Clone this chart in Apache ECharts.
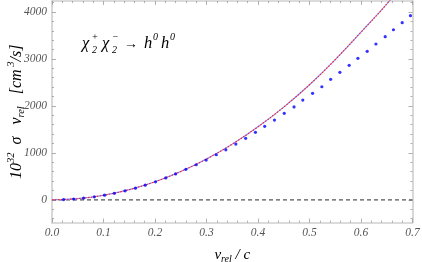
<!DOCTYPE html>
<html><head><meta charset="utf-8">
<script src="https://cdn.jsdelivr.net/npm/echarts@6/dist/echarts.min.js"></script>
<style>html,body{margin:0;padding:0;background:#fff}#c{width:422px;height:262px}</style>
</head><body><div id="c"></div>
<script>
// Data
var curveV   = [0, 0.05, 0.10, 0.15, 0.20, 0.25, 0.30, 0.35, 0.40, 0.45, 0.50, 0.55, 0.60, 0.65, 0.70];
var curveVal = [0, 24, 96, 216, 384, 601, 868, 1185, 1555, 1975, 2450, 2985, 3570, 4170, 4850];

var dotV   = [0.0226,0.042,0.0614,0.0822,0.102,0.121,0.142,0.162,0.181,0.201,0.221,0.240,0.260,0.280,0.2994,0.319,0.3375,0.357,0.376,0.395,0.413,0.432,0.451,0.470,0.487,0.506,0.524,0.541,0.559,0.577,0.594,0.612,0.629,0.647,0.663,0.680,0.696];
var dotVal = [5,17,36,62,98,138,190,248,311,383,466,550,648,746,846,959,1065,1187,1308,1436,1564,1698,1841,1978,2124,2267,2408,2565,2715,2864,3013,3162,3318,3474,3622,3772,3921];

var zeroV = [0, 0.7];
var zeroVal = [0, 0];

var xMajor = [0, 0.1, 0.2, 0.3, 0.4, 0.5, 0.6, 0.7];
var xMinor = [0.02,0.04,0.06,0.08,0.12,0.14,0.16,0.18,0.22,0.24,0.26,0.28,0.32,0.34,0.36,0.38,0.42,0.44,0.46,0.48,0.52,0.54,0.56,0.58,0.62,0.64,0.66,0.68];
var yMajor = [0, 1000, 2000, 3000, 4000];
var yMinor = [-400,-200,200,400,600,800,1200,1400,1600,1800,2200,2400,2600,2800,3200,3400,3600,3800,4200];

var X_MIN = 0, X_MAX = 0.7, Y_MIN = -486, Y_MAX = 4234;

function zip(a, b) { return a.map(function (v, i) { return [v, b[i]]; }); }

var SERIF = 'Liberation Serif';
var frameColor = '#cfcfcf';
var tickColor = '#9a9a9a';

function xAx(pos, major, showLine, showLabel) {
  return {
    type: 'value', position: pos, min: X_MIN, max: X_MAX,
    axisLine: { show: showLine, onZero: false, lineStyle: { color: frameColor, width: 1.6 } },
    axisTick: { show: true, inside: true, length: major ? 4 : 2, customValues: major ? xMajor : xMinor, lineStyle: { color: tickColor, width: 0.8 } },
    axisLabel: showLabel ? { show: true, customValues: xMajor, formatter: function (v) { return v.toFixed(1); }, color: '#555', fontFamily: SERIF, fontStyle: 'italic', fontSize: 11.5, margin: 4 } : { show: false },
    splitLine: { show: false }
  };
}
function yAx(pos, major, showLine, showLabel) {
  return {
    type: 'value', position: pos, min: Y_MIN, max: Y_MAX,
    axisLine: { show: showLine, onZero: false, lineStyle: { color: frameColor, width: 1.6 } },
    axisTick: { show: true, inside: true, length: major ? 4 : 2, customValues: major ? yMajor : yMinor, lineStyle: { color: tickColor, width: 0.8 } },
    axisLabel: showLabel ? { show: true, customValues: yMajor, formatter: function (v) { return String(v); }, color: '#555', fontFamily: SERIF, fontStyle: 'italic', fontSize: 11.5, margin: 5 } : { show: false },
    splitLine: { show: false }
  };
}

var xa0 = xAx('bottom', true, true, true);
xa0.name = '{v|v}{s|rel}{v| / c}';
xa0.nameLocation = 'middle';
xa0.nameGap = 22;
xa0.nameMoveOverlap = false;
xa0.nameTextStyle = { rich: {
  v: { fontFamily: SERIF, fontStyle: 'italic', fontSize: 15, color: '#000', lineHeight: 20, verticalAlign: 'middle' },
  s: { fontFamily: SERIF, fontStyle: 'italic', fontSize: 10, color: '#000', lineHeight: 10, verticalAlign: 'bottom' }
} };

var ya0 = yAx('left', true, true, true);
ya0.name = '{v|10}{p|32}{v|  σ   v}{s|rel}{v|   [cm}{p| 3}{v|/s]}';
ya0.nameLocation = 'middle';
ya0.nameGap = 25;
ya0.nameMoveOverlap = false;
ya0.nameTextStyle = { rich: {
  v: { fontFamily: SERIF, fontStyle: 'italic', fontSize: 16, color: '#000', lineHeight: 21, verticalAlign: 'middle' },
  s: { fontFamily: SERIF, fontStyle: 'italic', fontSize: 10.5, color: '#000', lineHeight: 10, verticalAlign: 'bottom' },
  p: { fontFamily: SERIF, fontStyle: 'italic', fontSize: 10.5, color: '#000', lineHeight: 10, verticalAlign: 'top' }
} };

function gt(x, y, t, size) {
  return { type: 'text', x: x, y: y, z: 100, style: { text: t, fontFamily: SERIF, fontStyle: 'italic', fontSize: size, fill: '#000', verticalAlign: 'middle', align: 'left' } };
}

var chart = echarts.init(document.getElementById('c'), null, { renderer: 'canvas' });
chart.setOption({
  animation: false,
  grid: { left: 52, right: 9.5, top: 1, bottom: 39.4, containLabel: false, outerBoundsMode: 'none' },
  xAxis: [xa0, xAx('bottom', false, false, false), xAx('top', true, true, false), xAx('top', false, false, false)],
  yAxis: [ya0, yAx('left', false, false, false), yAx('right', true, true, false), yAx('right', false, false, false)],
  graphic: [
    gt(82, 44, 'χ', 16.5), gt(92, 50, '2', 10), gt(91.5, 37, '+', 10),
    gt(102, 44, 'χ', 16.5), gt(112, 50, '2', 10), gt(112, 37, '−', 10),
    gt(124, 44, '→', 14),
    gt(144, 44, 'h', 16.5), gt(153, 37.5, '0', 10),
    gt(161, 44, 'h', 16.5), gt(170, 37.5, '0', 10)
  ],
  series: [
    { type: 'line', data: zip(zeroV, zeroVal), symbol: 'none', lineStyle: { color: '#555', width: 1.2, type: [4, 3] }, z: 2 },
    { type: 'line', data: zip(curveV, curveVal), smooth: 0.35, symbol: 'none', lineStyle: { color: '#8c8cff', width: 1.1 }, clip: true, z: 3 },
    { type: 'line', data: zip(curveV, curveVal), smooth: 0.35, symbol: 'none', lineStyle: { color: '#ff2020', width: 1.1, type: [1.5, 1.5] }, clip: true, z: 4 },
    { type: 'scatter', data: zip(dotV, dotVal), symbol: 'circle', symbolSize: 3.2, itemStyle: { color: '#0000ff' }, z: 5 }
  ]
});
</script>
</body></html>
